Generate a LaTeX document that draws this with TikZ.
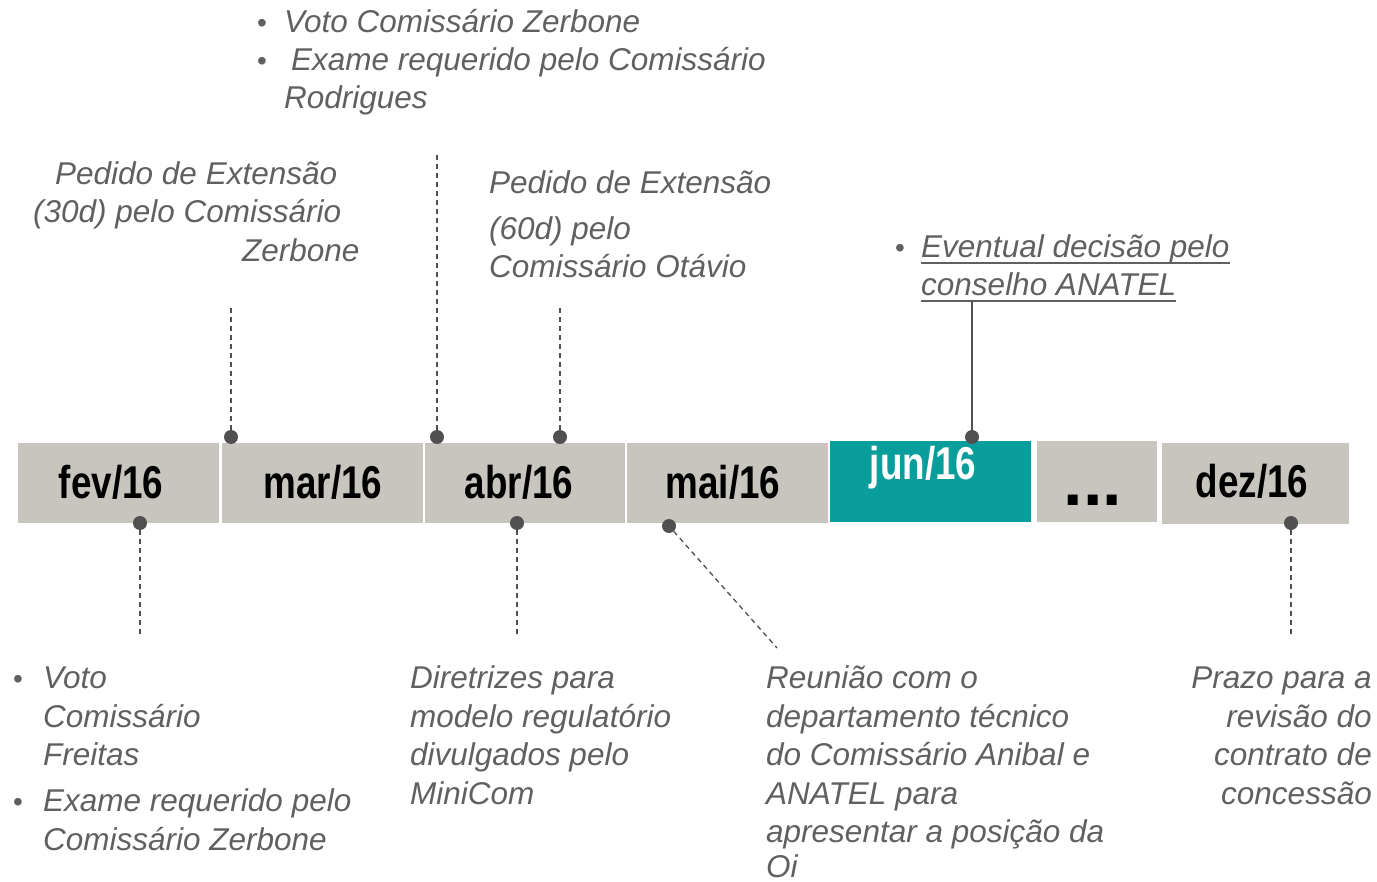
\documentclass[tikz,border=0pt]{standalone}
\usepackage{graphicx}
\usepackage{fontspec}
\setmainfont{Liberation Sans}
\definecolor{tgray}{RGB}{96,96,96}
\definecolor{boxgray}{RGB}{200,197,190}
\definecolor{tealc}{RGB}{9,158,155}
\definecolor{dotc}{RGB}{80,80,80}
\begin{document}
\begin{tikzpicture}[x=1pt,y=-1pt,
  txt/.style={font=\fontsize{31.5}{38}\selectfont\itshape, text=tgray, inner sep=0pt, anchor=base west},
  txtr/.style={txt, anchor=base east},
  bul/.style={font=\fontsize{28}{38}\selectfont, text=tgray, inner sep=0pt, anchor=base},
  mbox/.style={fill=boxgray, draw=none, inner sep=0pt, minimum height=80pt},
  mon/.style={font=\fontsize{46}{50}\selectfont\bfseries, inner sep=0pt, anchor=base, text=black},
  dot/.style={circle, fill=dotc, inner sep=0pt, minimum size=14pt},
  dline/.style={draw=dotc, line width=1.3pt, dash pattern=on 5pt off 4pt},
  sline/.style={draw=dotc, line width=1.5pt},
  uline/.style={draw=tgray, line width=1.5pt}]
\useasboundingbox (0,0) rectangle (1377,882);

% month boxes
\node[mbox, minimum width=201pt] (bfev) at (118.5,483) {};
\node[mbox, minimum width=201pt] (bmar) at (322.5,483) {};
\node[mbox, minimum width=200pt] (babr) at (525,483) {};
\node[mbox, minimum width=201pt] (bmai) at (727.5,483) {};
\node[mbox, minimum width=201pt, minimum height=81pt, fill=tealc] (bjun) at (930.5,481.5) {};
\node[mbox, minimum width=120pt, minimum height=81pt] (bdots) at (1097,481.5) {};
\node[mbox, minimum width=187pt, minimum height=81pt] (bdez) at (1255.5,483.5) {};

\node[mon] (lfev) at (111,499) {\scalebox{0.8}[1]{fev/16}};
\node[mon] (lmar) at (323,499) {\scalebox{0.8}[1]{mar/16}};
\node[mon] (labr) at (519,499) {\scalebox{0.8}[1]{abr/16}};
\node[mon] (lmai) at (723,499) {\scalebox{0.8}[1]{mai/16}};
\node[mon, text=white] (ljun) at (923,480) {\scalebox{0.8}[1]{jun/16}};
\node[mon, font=\fontsize{70}{72}\selectfont\bfseries] (ldots) at (1093,505) {...};
\node[mon] (ldez) at (1252,498) {\scalebox{0.8}[1]{dez/16}};

% top texts
\node[bul] (tb1) at (262,33) {•};
\node[txt] (t1) at (284,33) {Voto Comissário Zerbone};
\node[bul] (tb2) at (262,71) {•};
\node[txt] (t2) at (291,71) {Exame requerido pelo Comissário};
\node[txt] (t3) at (284,109) {Rodrigues};

\node[txt] (a1) at (55,185) {Pedido de Extensão};
\node[txt] (a2) at (33,223) {(30d) pelo Comissário};
\node[txt] (a3) at (242,262) {Zerbone};

\node[txt] (p1) at (489,194) {Pedido de Extensão};
\node[txt] (p2) at (489,240) {(60d) pelo};
\node[txt] (p3) at (489,278) {Comissário Otávio};

\node[bul] (eb) at (900,258) {•};
\node[txt] (e1) at (921,258) {Eventual decisão pelo};
\node[txt] (e2) at (921,296) {conselho ANATEL};
\draw[uline] ([yshift=-5pt]e1.base west) -- ([yshift=-5pt]e1.base east);
\draw[uline] ([yshift=-5pt]e2.base west) -- ([yshift=-5pt]e2.base east);

% bottom texts
\node[bul] (cb1) at (18,688) {•};
\node[txt] (c1) at (43,688) {Voto};
\node[txt] (c2) at (43,727) {Comissário};
\node[txt] (c3) at (43,765) {Freitas};
\node[bul] (cb2) at (18,811) {•};
\node[txt] (c4) at (43,811) {Exame requerido pelo};
\node[txt] (c5) at (43,850) {Comissário Zerbone};

\node[txt] (d1) at (410,688) {Diretrizes para};
\node[txt] (d2) at (410,727) {modelo regulatório};
\node[txt] (d3) at (410,765) {divulgados pelo};
\node[txt] (d4) at (410,804) {MiniCom};

\node[txt] (m1) at (766,688) {Reunião com o};
\node[txt] (m2) at (766,727) {departamento técnico};
\node[txt] (m3) at (766,765) {do Comissário Anibal e};
\node[txt] (m4) at (766,804) {ANATEL para};
\node[txt] (m5) at (766,842) {apresentar a posição da};
\node[txt] (m6) at (766,877) {Oi};

\node[txtr] (z1) at (1372,688) {Prazo para a};
\node[txtr] (z2) at (1372,727) {revisão do};
\node[txtr] (z3) at (1372,765) {contrato de};
\node[txtr] (z4) at (1372,804) {concessão};

% connectors
\coordinate (k1) at (140,638);
\coordinate (k2) at (231,305);
\coordinate (k3) at (437,153);
\coordinate (k4) at (560,305);
\coordinate (k5) at (517,638);
\coordinate (k6) at (777,648);
\coordinate (k7) at (972,301);
\coordinate (k8) at (1291,638);

\node[dot] (o1) at (140,523) {};
\node[dot] (o2) at (231,437) {};
\node[dot] (o3) at (437,437) {};
\node[dot] (o4) at (560,437) {};
\node[dot] (o5) at (517,523) {};
\node[dot] (o6) at (669,526) {};
\node[dot] (o7) at (972,437) {};
\node[dot] (o8) at (1291,523) {};

\draw[dline] (o1) -- (k1);
\draw[dline] (o2) -- (k2);
\draw[dline] (o3) -- (k3);
\draw[dline] (o4) -- (k4);
\draw[dline] (o5) -- (k5);
\draw[dline] (o6) -- (k6);
\draw[sline] (o7) -- (k7);
\draw[dline] (o8) -- (k8);
\end{tikzpicture}
\end{document}
